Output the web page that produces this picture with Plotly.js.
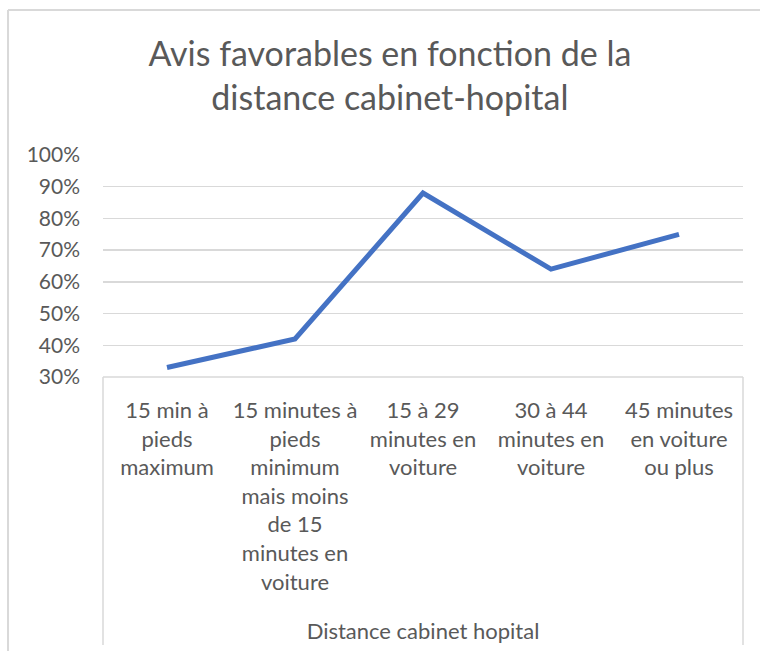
<!DOCTYPE html>
<html>
<head>
<meta charset="utf-8">
<script src="https://cdn.plot.ly/plotly-3.0.1.min.js"></script>
<style>html,body{margin:0;padding:0;background:#fff;}#chart{width:760px;height:651px;}</style>
</head>
<body>
<div id="chart"></div>
<script>
var categories = [
  "15 min à<br>pieds<br>maximum",
  "15 minutes à<br>pieds<br>minimum<br>mais moins<br>de 15<br>minutes en<br>voiture",
  "15 à 29<br>minutes en<br>voiture",
  "30 à 44<br>minutes en<br>voiture",
  "45 minutes<br>en voiture<br>ou plus"
];
var favorableShare = [0.33, 0.42, 0.88, 0.64, 0.75];
var yTickValues = [0.3, 0.4, 0.5, 0.6, 0.7, 0.8, 0.9, 1.0];
var yTickLabels = ["30%", "40%", "50%", "60%", "70%", "80%", "90%", "100%"];
var chartTitle = "Avis favorables en fonction de la<br>distance cabinet-hopital";
var xAxisTitle = "Distance cabinet hopital";

var textColor = "#595959";
var gridColor = "#D9D9D9";
var fontFamily = "Lato, 'Open Sans', sans-serif";

var trace = {
  x: categories,
  y: favorableShare,
  type: "scatter",
  mode: "lines",
  line: {color: "#4472C4", width: 5},
  hoverinfo: "skip",
  showlegend: false
};

var layout = {
  width: 760,
  height: 651,
  paper_bgcolor: "#ffffff",
  plot_bgcolor: "#ffffff",
  margin: {l: 103, r: 17, t: 155, b: 274, pad: 0},
  font: {family: fontFamily, color: textColor},
  title: {
    text: chartTitle,
    font: {family: fontFamily, size: 34, color: textColor},
    xref: "container", x: 0.513, xanchor: "center",
    yref: "container", y: 0.899, yanchor: "top"
  },
  xaxis: {
    type: "category",
    range: [-0.5, 4.5],
    showgrid: false,
    zeroline: false,
    showline: false,
    ticks: "",
    ticklabelstandoff: 18,
    tickfont: {family: fontFamily, size: 22, color: textColor},
    title: {text: xAxisTitle, font: {family: fontFamily, size: 22, color: textColor}, standoff: 30},
    automargin: false,
    fixedrange: true
  },
  yaxis: {
    range: [0.3, 1.0],
    tickvals: yTickValues,
    ticktext: yTickLabels,
    showgrid: true,
    gridcolor: gridColor,
    gridwidth: 1.3,
    zeroline: false,
    showline: false,
    ticks: "",
    ticklabelstandoff: 22,
    tickfont: {family: fontFamily, size: 21, color: textColor},
    automargin: false,
    fixedrange: true
  },
  shapes: [
    {type: "line", xref: "paper", yref: "paper", x0: 0, x1: 1, y0: 0, y1: 0, line: {color: gridColor, width: 1.5}, layer: "above"},
    {type: "line", xref: "paper", yref: "paper", x0: 0, x1: 0, y0: 0, y1: -1.207, line: {color: gridColor, width: 1.5}},
    {type: "line", xref: "paper", yref: "paper", x0: 1, x1: 1, y0: 0, y1: -1.207, line: {color: gridColor, width: 1.5}},
    {type: "line", xref: "paper", yref: "paper", x0: -0.1484, x1: 1.2, y0: 1.653, y1: 1.653, line: {color: gridColor, width: 2}},
    {type: "line", xref: "paper", yref: "paper", x0: -0.1484, x1: -0.1484, y0: 1.653, y1: -1.5, line: {color: gridColor, width: 2}}
  ]
};

Plotly.newPlot("chart", [trace], layout, {displayModeBar: false, staticPlot: true});
</script>
</body>
</html>
